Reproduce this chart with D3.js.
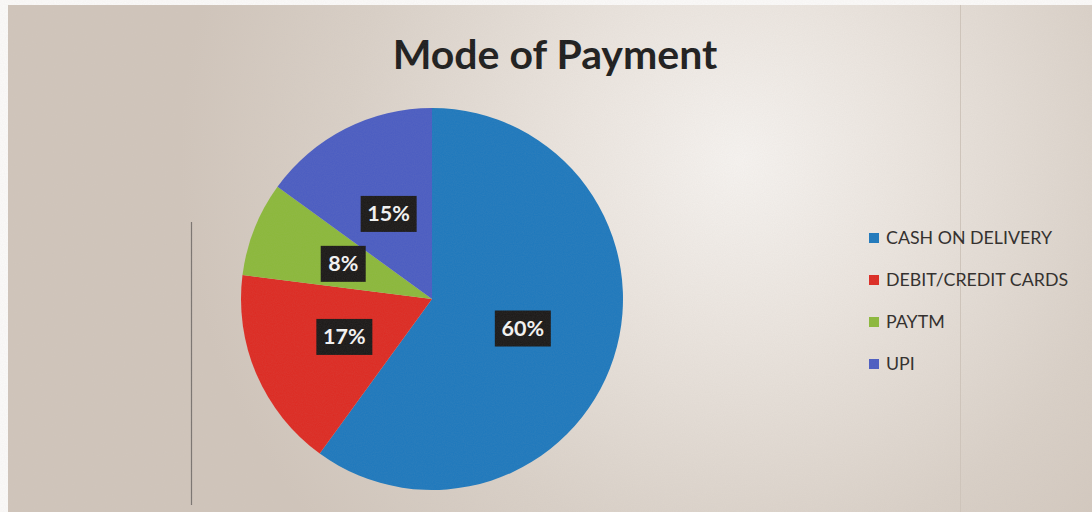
<!DOCTYPE html>
<html>
<head>
<meta charset="utf-8">
<script src="https://cdn.jsdelivr.net/npm/d3@7"></script>
<style>
  html, body { margin: 0; padding: 0; background: #fff; }
  svg { display: block; }
</style>
</head>
<body>
<svg id="chart" width="1092" height="512"></svg>
<script>
// Payment mode shares (percent)
const categories = ["CASH ON DELIVERY", "DEBIT/CREDIT CARDS", "PAYTM", "UPI"];
const shares = [60, 17, 8, 15];
const sliceColors = ["#1d78bd", "#dd2a22", "#8bb83a", "#4a5cc2"];
const chartTitle = "Mode of Payment";

const W = 1092, H = 512;
const svg = d3.select("#chart");
const defs = svg.append("defs");

// paper-like backdrop with a bright patch
const bg = defs.append("radialGradient")
  .attr("id", "paper")
  .attr("gradientUnits", "userSpaceOnUse")
  .attr("cx", 740).attr("cy", 160).attr("r", 560);
bg.append("stop").attr("offset", "0").attr("stop-color", "#f6f3f0");
bg.append("stop").attr("offset", "0.3").attr("stop-color", "#ebe5df");
bg.append("stop").attr("offset", "0.7").attr("stop-color", "#d9d0c7");
bg.append("stop").attr("offset", "1").attr("stop-color", "#d0c5bb");

const grain = defs.append("filter").attr("id", "grain")
  .attr("x", 0).attr("y", 0).attr("width", "100%").attr("height", "100%");
grain.append("feTurbulence").attr("type", "fractalNoise")
  .attr("baseFrequency", 0.9).attr("numOctaves", 2).attr("seed", 3);
grain.append("feColorMatrix").attr("type", "matrix")
  .attr("values", "0 0 0 0 0.5  0 0 0 0 0.45  0 0 0 0 0.42  0 0 0 0.10 0");

svg.append("rect").attr("width", W).attr("height", H).attr("fill", "#fbfaf9");
svg.append("rect").attr("x", 8).attr("y", 5).attr("width", W - 8).attr("height", H - 5)
  .attr("fill", "url(#paper)");

// faint page rules
svg.append("line").attr("x1", 191.5).attr("x2", 191.5).attr("y1", 222).attr("y2", 505)
  .attr("stroke", "#7a7470").attr("stroke-width", 1.2);
svg.append("line").attr("x1", 960.5).attr("x2", 960.5).attr("y1", 5).attr("y2", H)
  .attr("stroke", "#cfc5bb").attr("stroke-width", 1);

// title
svg.append("text")
  .attr("x", 555).attr("y", 69)
  .attr("text-anchor", "middle")
  .attr("font-family", "Lato, 'Open Sans', sans-serif")
  .attr("font-weight", 700)
  .attr("font-size", 41)
  .attr("fill", "#1c1c1c")
  .text(chartTitle);

// pie
const cx = 432, cy = 299, radius = 191;
const data = categories.map((c, i) => ({ name: c, value: shares[i], color: sliceColors[i] }));
const pie = d3.pie().value(d => d.value).sort(null);
const arc = d3.arc().innerRadius(0).outerRadius(radius);
const labelArc = d3.arc().innerRadius(radius * 0.5).outerRadius(radius * 0.5);
const arcs = pie(data);

const g = svg.append("g").attr("transform", `translate(${cx},${cy})`);
g.selectAll("path.slice")
  .data(arcs)
  .join("path")
  .attr("class", "slice")
  .attr("d", arc)
  .attr("fill", d => d.data.color);

// value labels on dark boxes
const total = d3.sum(shares);
const lab = g.selectAll("g.lab")
  .data(arcs)
  .join("g")
  .attr("class", "lab")
  .attr("transform", d => `translate(${labelArc.centroid(d)})`);
lab.each(function (d) {
  const t = d3.select(this);
  const txt = Math.round(d.data.value / total * 100) + "%";
  const bw = txt.length === 3 ? 56 : 45;
  t.append("rect")
    .attr("x", -bw / 2).attr("y", -18)
    .attr("width", bw).attr("height", 36)
    .attr("fill", "#1a1817");
  t.append("text")
    .attr("text-anchor", "middle")
    .attr("y", 7.5)
    .attr("font-family", "Lato, 'Open Sans', sans-serif")
    .attr("font-weight", 700)
    .attr("font-size", 21.5)
    .attr("fill", "#f4f4f4")
    .text(txt);
});

// legend
const legend = svg.append("g").attr("transform", "translate(869,238)");
const row = legend.selectAll("g")
  .data(data)
  .join("g")
  .attr("transform", (d, i) => `translate(0,${i * 42})`);
row.append("rect")
  .attr("x", 0).attr("y", -5).attr("width", 10).attr("height", 10)
  .attr("fill", d => d.color);
row.append("text")
  .attr("x", 17).attr("y", 6)
  .attr("font-family", "Lato, 'Open Sans', sans-serif")
  .attr("font-size", 17.8)
  .attr("fill", "#2e2b29")
  .text(d => d.name);

// print grain over everything
svg.append("rect").attr("width", W).attr("height", H)
  .attr("filter", "url(#grain)").attr("pointer-events", "none");
</script>
</body>
</html>
